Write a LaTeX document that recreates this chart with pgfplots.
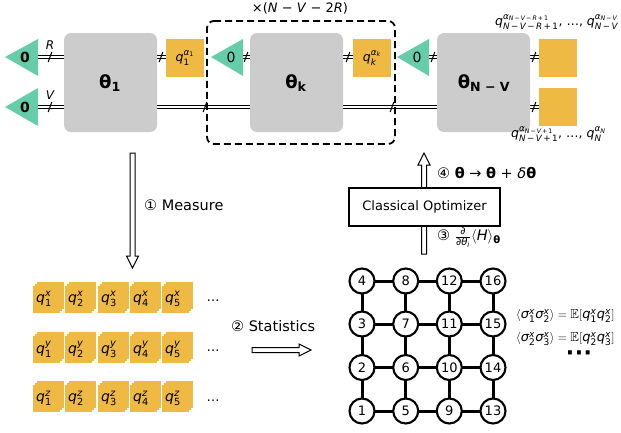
\documentclass[border=0pt]{standalone}
\usepackage{amsmath,amssymb}
\usepackage{pgfplots}
\pgfplotsset{compat=1.18}
\usepackage{pgfplotstable}
\usepackage{fontspec}
\setmainfont{DejaVu Sans}

\definecolor{qgreen}{RGB}{102,205,170}
\definecolor{qorange}{RGB}{239,186,68}
\definecolor{qgray}{RGB}{204,204,204}

\newcommand\ti[1]{\text{\itshape #1}}
\newcommand\tr[1]{\text{\upshape #1}}
\newcommand\mi{\tr{\,−\,}}
\newcommand\pl{\tr{\,+\,}}

\pgfplotsset{
  wire/.style={black, line width=1.3pt, double=white, double distance=1.2pt},
  slash/.style={black, line width=1pt},
  hollow/.style={fill=white, draw=black, line width=1pt},
  tile/.style={color=qorange, only marks, mark=square*, mark size=13pt,
    mark options={draw=qorange, fill=qorange}},
  tilelab/.style={point meta=explicit symbolic, nodes near coords align=center,
    every node near coord/.append style={text=black, font=\fontsize{14}{16}\selectfont, inner sep=0pt, xshift=-2pt}},
}

% wire from x1 to x2 at height y with a slash at xs
\newcommand\wire[4]{%
  \addplot[wire] coordinates {(#1,#3) (#2,#3)};
  \pgfmathsetmacro\sxa{#4-1.8}\pgfmathsetmacro\sxb{#4+1.8}%
  \pgfmathsetmacro\sya{#3+5}\pgfmathsetmacro\syb{#3-5}%
  \addplot[slash] coordinates {(\sxa,\sya) (\sxb,\syb)};
}

\pgfplotstableread{
x   y   n
362 411 1
362 367.5 2
362 324 3
362 281 4
405.7 411 5
405.7 367.5 6
405.7 324 7
405.7 281 8
449.3 411 9
449.3 367.5 10
449.3 324 11
449.3 281 12
493 411 13
493 367.5 14
493 324 15
493 281 16
}\gridtab

% front tiles of the measurement records, one table per basis
\pgfplotstableread{
x   y     n
46  299   1
78  299   2
111 299   3
143 299   4
175 299   5
}\tilex
\pgfplotstableread{
x   y     n
46  349.5 1
78  349.5 2
111 349.5 3
143 349.5 4
175 349.5 5
}\tiley
\pgfplotstableread{
x   y     n
46  398.5 1
78  398.5 2
111 398.5 3
143 398.5 4
175 398.5 5
}\tilez

\begin{document}
\begin{tikzpicture}
\begin{axis}[
  scale only axis, width=621pt, height=432pt,
  xmin=0, xmax=621, ymin=0, ymax=432, y dir=reverse,
  hide axis, clip=false,
]
% ---- circuit wires
\wire{38}{64}{57}{50}
\wire{38}{64}{107}{50}
\wire{157}{166}{57}{161}
\wire{157}{250}{107}{205}
\wire{243}{250}{57}{246}
\wire{343}{353}{57}{348}
\wire{343}{437}{107}{392}
\wire{429}{437}{57}{433}
\wire{530}{539}{57}{534}
\wire{530}{539}{107}{534}

% ---- gates
\addplot[fill=qgray, draw=none, rounded corners=7pt] coordinates {(64,33) (157,33) (157,132) (64,132)} -- cycle;
\addplot[fill=qgray, draw=none, rounded corners=7pt] coordinates {(250,33) (343,33) (343,132) (250,132)} -- cycle;
\addplot[fill=qgray, draw=none, rounded corners=7pt] coordinates {(437,33) (530,33) (530,132) (437,132)} -- cycle;

% ---- reset triangles
\addplot[fill=qgreen, draw=none] coordinates {(5,57) (38,39) (38,76)} -- cycle;
\addplot[fill=qgreen, draw=none] coordinates {(5,107) (38,88) (38,126)} -- cycle;
\addplot[fill=qgreen, draw=none] coordinates {(211,57) (243,39) (243,76)} -- cycle;
\addplot[fill=qgreen, draw=none] coordinates {(397,57) (429,39) (429,76)} -- cycle;

% ---- measured qubits
\addplot[fill=qorange, draw=none] coordinates {(166,39) (204,39) (204,77) (166,77)} -- cycle;
\addplot[fill=qorange, draw=none] coordinates {(353,39) (391,39) (391,77) (353,77)} -- cycle;
\addplot[fill=qorange, draw=none] coordinates {(539,39) (577,39) (577,77) (539,77)} -- cycle;
\addplot[fill=qorange, draw=none] coordinates {(539,88) (577,88) (577,126) (539,126)} -- cycle;

% ---- repeated block
\addplot[black, line width=1.8pt, dash pattern=on 7pt off 4pt, rounded corners=7pt]
  coordinates {(207,21) (395,21) (395,144) (207,144)} -- cycle;

% ---- hollow arrows
\addplot[hollow] coordinates {(130,153) (135,153) (135,256) (138.5,256) (132.5,268) (126.5,256) (130,256)} -- cycle;
\addplot[hollow] coordinates {(421.5,254) (426.5,254) (426.5,165) (430,165) (424,153) (418,165) (421.5,165)} -- cycle;
\addplot[hollow] coordinates {(252,347.5) (299,347.5) (299,344) (311,350) (299,356) (299,352.5) (252,352.5)} -- cycle;

% ---- optimizer box
\addplot[fill=white, draw=black, line width=1.6pt] coordinates {(349,188) (500,188) (500,226) (349,226)} -- cycle;

% ---- measurement records (stacked shots)
\addplot[tile] table[x expr=\thisrow{x}+4, y expr=\thisrow{y}-4] {\tilex};
\addplot[tile] table[x expr=\thisrow{x}+2, y expr=\thisrow{y}-2] {\tilex};
\addplot[tile] table[x expr=\thisrow{x}+4, y expr=\thisrow{y}-4] {\tiley};
\addplot[tile] table[x expr=\thisrow{x}+2, y expr=\thisrow{y}-2] {\tiley};
\addplot[tile] table[x expr=\thisrow{x}+4, y expr=\thisrow{y}-4] {\tilez};
\addplot[tile] table[x expr=\thisrow{x}+2, y expr=\thisrow{y}-2] {\tilez};
\addplot[tile, tilelab, nodes near coords={$\ti{q}^{\ti{x}}_{\tr{\pgfplotspointmeta}}$}]
  table[meta=n] {\tilex};
\addplot[tile, tilelab, nodes near coords={$\ti{q}^{\ti{y}}_{\tr{\pgfplotspointmeta}}$}]
  table[meta=n] {\tiley};
\addplot[tile, tilelab, nodes near coords={$\ti{q}^{\ti{z}}_{\tr{\pgfplotspointmeta}}$}]
  table[meta=n] {\tilez};

% ---- lattice
\addplot[black, line width=3pt] coordinates {(362,281) (493,281)};
\addplot[black, line width=3pt] coordinates {(362,324) (493,324)};
\addplot[black, line width=3pt] coordinates {(362,367.5) (493,367.5)};
\addplot[black, line width=3pt] coordinates {(362,411) (493,411)};
\addplot[black, line width=3pt] coordinates {(362,281) (362,411)};
\addplot[black, line width=3pt] coordinates {(405.7,281) (405.7,411)};
\addplot[black, line width=3pt] coordinates {(449.3,281) (449.3,411)};
\addplot[black, line width=3pt] coordinates {(493,281) (493,411)};
\addplot[only marks, mark=*, mark size=12.5pt,
  mark options={fill=white, draw=black, line width=2.1pt},
  point meta=explicit symbolic, nodes near coords, nodes near coords align=center,
  every node near coord/.append style={text=black, font=\fontsize{13}{15}\selectfont, inner sep=0pt}]
  table[meta=n] {\gridtab};

% ---- texts
\node[font=\fontsize{13}{15}\selectfont] at (axis cs:300,8) {×(\textit{N} − \textit{V} − 2\textit{R})};
\node[font=\fontsize{12}{14}\selectfont\itshape] at (axis cs:50,45) {R};
\node[font=\fontsize{12}{14}\selectfont\itshape] at (axis cs:50,95) {V};
\node[font=\fontsize{14}{16}\selectfont\bfseries] at (axis cs:25,57) {0};
\node[font=\fontsize{14}{16}\selectfont\bfseries] at (axis cs:25,107) {0};
\node[font=\fontsize{14}{16}\selectfont] at (axis cs:231,57) {0};
\node[font=\fontsize{14}{16}\selectfont] at (axis cs:417,57) {0};
\node[font=\fontsize{18}{20}\selectfont\bfseries] at (axis cs:110,83) {θ\textsubscript{1}};
\node[font=\fontsize{18}{20}\selectfont\bfseries] at (axis cs:296,83) {θ\textsubscript{k}};
\node[font=\fontsize{18}{20}\selectfont\bfseries] at (axis cs:484,83) {θ\textsubscript{N − V}};
\node[font=\fontsize{12.5}{14}\selectfont] at (axis cs:185,58) {$\ti{q}^{\ti{α}_{\tr{1}}}_{\tr{1}}$};
\node[font=\fontsize{12.5}{14}\selectfont] at (axis cs:372,58) {$\ti{q}^{\ti{α}_{\ti{k}}}_{\ti{k}}$};
\node[font=\fontsize{12.5}{14}\selectfont, anchor=west, inner sep=0pt] at (axis cs:495,22)
  {$\ti{q}^{\ti{α}_{\ti{N}\mi\ti{V}\mi\ti{R}\pl\tr{1}}}_{\ti{N}\mi\ti{V}\mi\ti{R}\pl\tr{1}}\tr{, …, }\ti{q}^{\ti{α}_{\ti{N}\mi\ti{V}}}_{\ti{N}\mi\ti{V}}$};
\node[font=\fontsize{12.5}{14}\selectfont, anchor=west, inner sep=0pt] at (axis cs:511,134)
  {$\ti{q}^{\ti{α}_{\ti{N}\mi\ti{V}\pl\tr{1}}}_{\ti{N}\mi\ti{V}\pl\tr{1}}\tr{, …, }\ti{q}^{\ti{α}_{\ti{N}}}_{\ti{N}}$};

\node[font=\fontsize{14.5}{17}\selectfont, anchor=west, inner sep=0pt] at (axis cs:144,205) {① Measure};
\node[font=\fontsize{14.5}{17}\selectfont, anchor=west, inner sep=0pt] at (axis cs:231,326) {② Statistics};
\node[font=\fontsize{13}{15}\selectfont] at (axis cs:424.5,207) {Classical Optimizer};
\node[font=\fontsize{14.5}{17}\selectfont, anchor=west, inner sep=0pt] at (axis cs:437,173)
  {④ \textbf{θ} → \textbf{θ} + \textit{δ}\textbf{θ}};
\node[font=\fontsize{14.5}{17}\selectfont, anchor=west, inner sep=0pt] at (axis cs:437,238)
  {③ $\frac{\tr{∂}}{\tr{∂}\ti{θ}_{\ti{i}}}\langle\ti{H}\rangle_{\text{\bfseries θ}}$};

\node[font=\fontsize{13}{15}\selectfont] at (axis cs:213,301) {…};
\node[font=\fontsize{13}{15}\selectfont] at (axis cs:213,351) {…};
\node[font=\fontsize{13}{15}\selectfont] at (axis cs:213,401) {…};

\node[font=\fontsize{13}{15}\selectfont, anchor=west, inner sep=0pt] at (axis cs:516,316)
  {$\langle\ti{σ}^{\ti{x}}_{\tr{1}}\ti{σ}^{\ti{x}}_{\tr{2}}\rangle = \mathbb{E}[\ti{q}^{\ti{x}}_{\tr{1}}\ti{q}^{\ti{x}}_{\tr{2}}]$};
\node[font=\fontsize{13}{15}\selectfont, anchor=west, inner sep=0pt] at (axis cs:516,339)
  {$\langle\ti{σ}^{\ti{x}}_{\tr{2}}\ti{σ}^{\ti{x}}_{\tr{3}}\rangle = \mathbb{E}[\ti{q}^{\ti{x}}_{\tr{2}}\ti{q}^{\ti{x}}_{\tr{3}}]$};
\node[font=\fontsize{22}{22}\selectfont\bfseries] at (axis cs:579,356) {·\hspace{0.5pt}·\hspace{0.5pt}·};

\coordinate (BL) at (axis cs:0,432);
\coordinate (TR) at (axis cs:621,0);
\end{axis}
\pgfresetboundingbox
\path[use as bounding box] (BL) rectangle (TR);
\end{tikzpicture}
\end{document}
